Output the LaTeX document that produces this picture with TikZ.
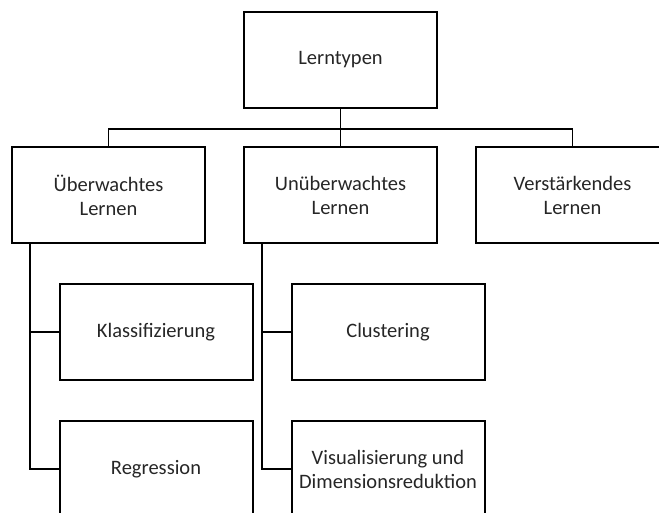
\documentclass[tikz,border=0pt]{standalone}
\usepackage{fontspec}
\setmainfont{Carlito}
\usetikzlibrary{trees}

\begin{document}
\begin{tikzpicture}[x=1pt, y=1pt, level distance=135.5pt, edge from parent/.style={draw, line width=1.2pt}, level 1/.style={sibling distance=232pt, edge from parent path={(\tikzparentnode.south) -- ++(0,-20) -| (\tikzchildnode.north)}}, level 2/.style={grow via three points={one child at (47.5,-136.5) and two children at (47.5,-136.5) and (47.5,-273.5)}, edge from parent path={([xshift=19pt]\tikzparentnode.south west) |- (\tikzchildnode.west)}}]
	\tikzstyle{box} = [draw, line width=2pt, minimum width=193pt, minimum height=96pt, align=center, text=black!85, font=\fontsize{20.5}{24}\selectfont]
	\useasboundingbox (0,0) rectangle (659,-513);
	\node[box] (lerntypen) at (340.5,-60) {Lerntypen}
		child
		{
			node[box] (ueberwacht) {Überwachtes\\Lernen}
				child
				{
					node[box] (klass) {Klassifizierung}
				}
				child
				{
					node[box] (regr) {Regression}
				}
		}
		child
		{
			node[box] (unueberwacht) {Unüberwachtes\\Lernen}
				child
				{
					node[box] (clust) {Clustering}
				}
				child
				{
					node[box] (visdim) {Visualisierung und\\Dimensionsreduktion}
				}
		}
		child
		{
			node[box] (verstaerkend) {Verstärkendes\\Lernen}
		}
	;
\end{tikzpicture}
\end{document}
